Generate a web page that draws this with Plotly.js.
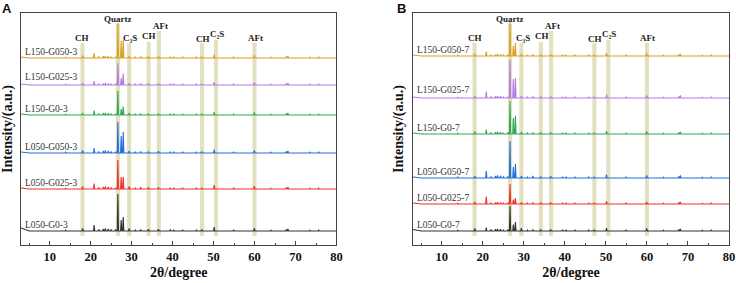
<!DOCTYPE html>
<html>
<head>
<meta charset="utf-8">
<script src="https://cdn.plot.ly/plotly-3.0.1.min.js"></script>
<style>
  html, body { margin: 0; padding: 0; background: #fff; }
  #chart { width: 736px; height: 283px; }
</style>
</head>
<body>
<div id="chart"></div>
<script>
// Reflection positions (2θ, degree) shared by all patterns
const peakPos = [13.9, 18.05, 20.85, 22.0, 23.1, 23.6, 24.3, 25.0, 26.1, 26.64,
                 27.45, 27.95, 29.4, 30.9, 32.2, 34.1, 36.55, 39.45, 40.3, 42.45,
                 45.8, 47.1, 50.15, 54.9, 59.95, 64.0, 67.75, 68.15, 73.5, 75.65];

// Panel A: 3-day samples (relative intensity, a.u.)
const namesA = ["L050-G0-3", "L050-G025-3", "L050-G050-3", "L150-G0-3", "L150-G025-3", "L150-G050-3"];
const L050_G0_3   = [0.8, 2.5, 6.0, 1.5, 2.0, 2.5, 2.0, 1.5, 1.5, 37, 11, 14, 2.5, 1, 1.5, 1.8, 1.8, 1.5, 1, 1.2, 1, 1.5, 4.0, 1.2, 3.0, 0.8, 1.5, 2.0, 0.8, 1];
const L050_G025_3 = [0.8, 2.5, 5.5, 1.5, 2.0, 2.5, 2.0, 1.5, 1.2, 29, 12, 12, 2.5, 1, 1.8, 1.5, 1.8, 1.2, 1, 1.2, 1, 1.2, 4.0, 1.2, 3.0, 0.8, 1.5, 2.0, 0.8, 1];
const L050_G050_3 = [1.0, 2.5, 5.0, 1.5, 2.0, 2.5, 2.0, 1.5, 1.2, 31, 17, 21, 2.0, 1, 1.5, 1.5, 1.8, 1.2, 1, 1.2, 1, 1.5, 3.5, 1.2, 2.5, 0.8, 1.5, 2.0, 0.8, 1];
const L150_G0_3   = [0.8, 2.0, 4.5, 1.5, 2.0, 2.0, 1.8, 1.2, 1.2, 24, 6, 8.5, 2.0, 1, 1.5, 1.5, 1.5, 1.2, 1, 1.2, 1, 1.2, 3.0, 1.0, 2.5, 0.8, 1.5, 2.0, 0.8, 1];
const L150_G025_3 = [0.8, 2.0, 4.0, 1.2, 1.5, 2.0, 1.5, 1.2, 1.2, 22, 7, 11.5, 1.8, 1, 1.5, 1.5, 1.5, 1.2, 1, 1.2, 1, 1.2, 3.0, 1.0, 2.5, 0.8, 1.5, 2.0, 0.8, 1];
const L150_G050_3 = [0.8, 2.5, 5.0, 1.5, 1.8, 2.0, 1.8, 1.2, 1.2, 35, 17, 18, 1.8, 1, 1.5, 1.5, 1.8, 1.2, 1, 1.2, 1, 1.2, 3.5, 1.0, 3.0, 0.8, 1.5, 2.0, 0.8, 1];
const offsetsA = [14, 56, 92, 130, 160, 187];
const liftA = [3, 1, 1, 1, 1, 1];

// Panel B: 7-day samples
const namesB = ["L050-G0-7", "L050-G025-7", "L050-G050-7", "L150-G0-7", "L150-G025-7", "L150-G050-7"];
const L050_G0_7   = [0.8, 2.5, 3.5, 1.5, 1.8, 2.0, 1.8, 1.2, 1.5, 25, 6.5, 9, 3.0, 1, 1.5, 1.5, 1.5, 1.2, 1, 1.2, 1, 1.2, 3.0, 1.0, 2.5, 0.8, 1.5, 2.0, 0.8, 1];
const L050_G025_7 = [0.8, 2.0, 7.5, 1.2, 1.5, 1.8, 1.5, 1.2, 1.2, 20, 4.5, 6, 1.5, 1, 1.5, 1.5, 1.5, 1.0, 1, 1.0, 1, 1.2, 2.5, 1.0, 2.0, 0.8, 1.5, 2.0, 0.8, 1];
const L050_G050_7 = [1.0, 2.0, 7.0, 1.5, 2.0, 2.5, 2.0, 1.5, 1.5, 37, 11, 14, 2.0, 1, 2.0, 1.5, 1.8, 1.2, 1, 1.2, 1, 1.2, 3.5, 1.0, 2.5, 0.8, 1.5, 2.5, 0.8, 1];
const L150_G0_7   = [0.8, 2.5, 4.5, 1.5, 1.8, 2.0, 1.8, 1.2, 1.5, 33, 16, 18, 2.0, 1, 1.5, 1.5, 1.5, 1.2, 1, 1.2, 1, 1.2, 3.0, 1.0, 2.5, 0.8, 1.5, 2.0, 0.8, 1];
const L150_G025_7 = [0.8, 2.0, 6.5, 1.5, 1.8, 2.0, 1.8, 1.2, 1.2, 38, 19, 20, 2.0, 1, 1.5, 1.5, 1.5, 1.2, 1, 1.2, 1, 1.2, 3.5, 1.0, 2.5, 0.8, 1.5, 2.5, 0.8, 1];
const L150_G050_7 = [0.8, 2.5, 4.5, 1.2, 1.5, 2.0, 1.5, 1.2, 1.2, 35, 10, 13, 2.0, 1, 1.5, 1.5, 1.5, 1.2, 1, 1.2, 1, 1.2, 3.0, 1.0, 2.5, 0.8, 1.5, 2.0, 0.8, 1];
const offsetsB = [14, 41, 67, 111, 147, 189];
const liftB = [1.5, 1, 1, 1, 1, 1];

// Phase markers
const bandPos   = [18.0, 26.65, 29.4, 34.15, 36.65, 47.2, 50.6, 60.0];
const bandLabel = ["CH", "Quartz", "C₃S", "CH", "AFt", "CH", "C₂S", "AFt"];

// Drawing settings
const colors = ["#333333", "#ee3030", "#1f6fe0", "#2eaa52", "#b47ae6", "#d9a021"];
const bandTop = [202, 221, 202, 203, 214, 202, 205, 202];
const bandBottom = 9;
const bandLabelY = [207, 226, 207, 209, 219, 206, 211, 207];
const bandLabelDx = [0, 0, 0.3, 0.2, 0.3, 0.1, 0.2, 0.2];
const halfWidth = 0.15;
const serif = "Times New Roman, Liberation Serif, serif";

function pattern(heights, offset, lift) {
  const x = [3, 5], y = [offset + lift, offset];
  peakPos.forEach((p, i) => {
    x.push(p - halfWidth, p, p + halfWidth);
    y.push(offset, offset + heights[i], offset);
  });
  x.push(80); y.push(offset);
  return { x, y };
}

const seriesA = [L050_G0_3, L050_G025_3, L050_G050_3, L150_G0_3, L150_G025_3, L150_G050_3];
const seriesB = [L050_G0_7, L050_G025_7, L050_G050_7, L150_G0_7, L150_G025_7, L150_G050_7];

const traces = [];
const annotations = [];
const shapes = [];

function addPanel(series, names, offsets, lifts, xa, ya) {
  series.forEach((h, i) => {
    const d = pattern(h, offsets[i], lifts[i]);
    traces.push({
      x: d.x, y: d.y, type: "scatter", mode: "lines", name: names[i],
      xaxis: xa, yaxis: ya, line: { color: colors[i], width: 1.1 }, hoverinfo: "skip"
    });
    annotations.push({
      xref: xa, yref: ya, x: 3.5, y: offsets[i] + (i === 4 ? 8 : 6),
      text: names[i], showarrow: false, xanchor: "left", yanchor: "middle",
      font: { family: serif, size: 9.5, color: "#333" }
    });
  });
  bandPos.forEach((p, k) => {
    shapes.push({
      type: "rect", xref: xa, yref: ya, x0: p - 0.5, x1: p + 0.5,
      y0: bandBottom, y1: bandTop[k], fillcolor: "#e3e0c0",
      line: { width: 0 }, layer: "below"
    });
    annotations.push({
      xref: xa, yref: ya, x: p + bandLabelDx[k], y: bandLabelY[k],
      text: bandLabel[k], showarrow: false, xanchor: "center", yanchor: "middle",
      font: { family: serif, size: 9, color: "#222", weight: "bold" }
    });
  });
}

addPanel(seriesA, namesA, offsetsA, liftA, "x", "y");
addPanel(seriesB, namesB, offsetsB, liftB, "x2", "y2");

// Panel letters
const letterFont = { family: "Liberation Sans, Arial, sans-serif", size: 13, color: "#111", weight: "bold" };
annotations.push({ xref: "paper", yref: "paper", x: -0.02, y: 1.02, text: "A", showarrow: false,
  xanchor: "center", yanchor: "middle", font: letterFont });
annotations.push({ xref: "x2 domain", yref: "paper", x: 0, y: 1.02, xshift: -12, text: "B", showarrow: false,
  xanchor: "center", yanchor: "middle", font: letterFont });

const titleFont = { family: serif, size: 14, color: "#111", weight: "bold" };

function xAxis(domain, anchor) {
  return {
    domain, anchor, range: [3, 80], tick0: 0, dtick: 10,
    ticks: "inside", ticklen: 4, tickwidth: 1, tickcolor: "#444",
    minor: { dtick: 5, ticks: "inside", ticklen: 2, tickwidth: 1, tickcolor: "#444" },
    showline: true, mirror: true, linecolor: "#444", linewidth: 1,
    showgrid: false, zeroline: false,
    tickfont: { family: serif, size: 12.5, color: "#111", weight: "bold" },
    title: { text: "2θ/degree", font: titleFont, standoff: 4 }
  };
}
function yAxis(domain, anchor) {
  return {
    domain, anchor, range: [0, 232], showticklabels: false, ticks: "",
    showline: true, mirror: true, linecolor: "#444", linewidth: 1,
    showgrid: false, zeroline: false, fixedrange: true,
    title: { text: "Intensity/(a.u.)", font: titleFont, standoff: 5 }
  };
}

const layout = {
  width: 736, height: 283,
  margin: { l: 21, r: 7, t: 13, b: 38 },
  paper_bgcolor: "#fff", plot_bgcolor: "#fff",
  showlegend: false,
  xaxis: xAxis([0, 0.4456], "y"),
  yaxis: yAxis([0, 1], "x"),
  xaxis2: xAxis([0.5537, 1], "y2"),
  yaxis2: yAxis([0, 1], "x2"),
  shapes, annotations
};

Plotly.newPlot("chart", traces, layout, { staticPlot: true, displayModeBar: false });
</script>
</body>
</html>
